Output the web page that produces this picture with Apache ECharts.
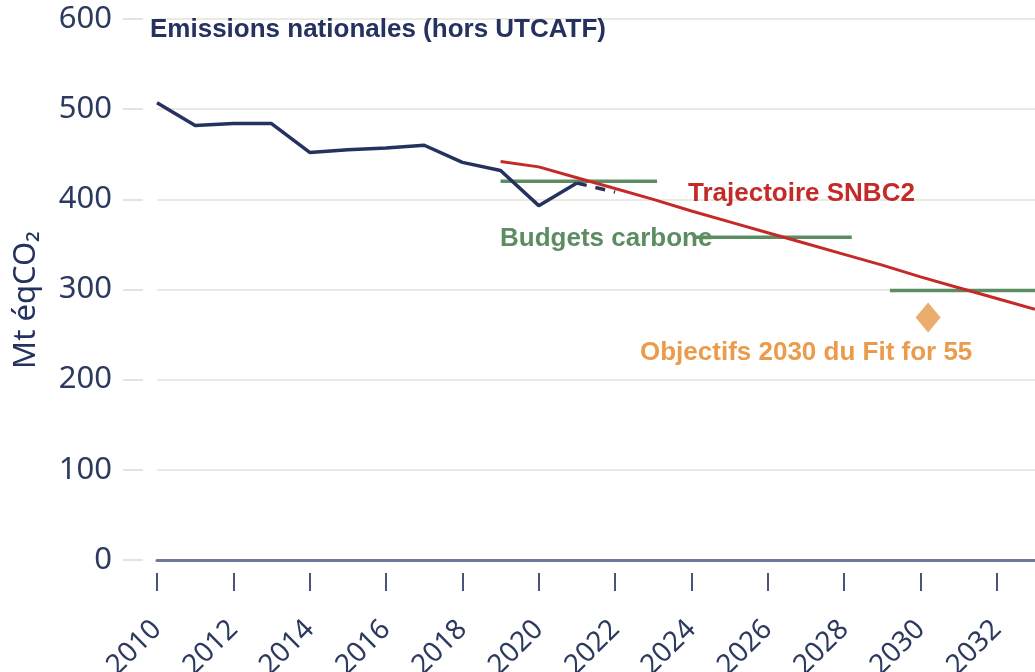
<!DOCTYPE html>
<html>
<head>
<meta charset="utf-8">
<script src="https://cdn.jsdelivr.net/npm/echarts@6/dist/echarts.min.js"></script>
<style>
  html, body { margin: 0; padding: 0; background: #fff; }
  #chart { width: 1035px; height: 672px; }
</style>
</head>
<body>
<div id="chart"></div>
<script>
// emissions nationales (hors UTCATF), Mt éqCO2
let years = [2010, 2011, 2012, 2013, 2014, 2015, 2016, 2017, 2018, 2019, 2020, 2021];
let emissions = [507, 482, 484, 484, 452, 455, 457, 460, 441, 432, 393, 418];
// estimation provisoire (pointillés)
let provYears = [2021, 2022];
let provValues = [418, 408];

// trajectoire SNBC2
let snbcYears = [2019, 2020, 2021, 2022, 2023, 2024, 2025, 2026, 2027, 2028, 2029, 2030, 2031, 2032, 2033];
let snbcValues = [442, 436, 424, 412, 400, 387, 375, 363, 351, 339, 327, 314, 302, 290, 278];

// budgets carbone (segments horizontaux)
let budgetStarts = [2019, 2024.1, 2029.2];
let budgetEnds = [2023.1, 2028.2, 2033];
let budgetValues = [420, 358, 299];

// objectif Fit for 55
let fitYear = 2030.2;
let fitValue = 269;

let yTicks = [0, 100, 200, 300, 400, 500, 600];

let navy = '#25315f';
let red = '#c42a28';
let green = '#5b8c62';
let orange = '#ea9b4b';
let labelFont = '"Liberation Sans", Arial, sans-serif';

let myChart = echarts.init(document.getElementById('chart'));

let budgetSeries = budgetValues.map(function (v, i) {
  return {
    name: 'Budgets carbone',
    type: 'line',
    showSymbol: false,
    symbol: 'none',
    lineStyle: { color: green, width: 3.5 },
    data: [[budgetStarts[i], v], [budgetEnds[i], v]],
    z: 3
  };
});

function annot(text, x, y, color) {
  return {
    type: 'text', x: x, y: y, z: 100,
    style: {
      text: text, fill: color,
      fontSize: 26, fontWeight: 'bold', fontFamily: labelFont,
      verticalAlign: 'middle'
    }
  };
}

myChart.setOption({
  animation: false,
  grid: { left: 157, right: 0, top: 19, bottom: 112, containLabel: false, outerBoundsMode: 'none' },
  xAxis: [{
    type: 'value',
    min: 2010,
    max: 2033,
    interval: 2,
    axisLine: { show: true, lineStyle: { color: '#6f7897', width: 3 } },
    axisTick: { show: false },
    axisLabel: { show: false },
    splitLine: { show: false }
  }, {
    type: 'value',
    position: 'bottom',
    offset: 13,
    min: 2010,
    max: 2033,
    interval: 2,
    axisLine: { show: false },
    axisTick: { show: true, length: 18, lineStyle: { color: '#4a5478', width: 2 } },
    axisLabel: {
      rotate: 45,
      margin: 52,
      fontSize: 28,
      fontFamily: 'Noto Sans',
      color: '#2d3a5f',
      showMaxLabel: false,
      formatter: function (v) { return String(v); }
    },
    splitLine: { show: false }
  }],
  yAxis: {
    type: 'value',
    min: 0,
    max: 600,
    interval: 100,
    offset: 14,
    axisLine: { show: false },
    axisTick: { show: true, length: 20, lineStyle: { color: '#e6e3dc', width: 2 } },
    axisLabel: {
      margin: 31,
      fontSize: 31,
      fontFamily: 'Noto Sans',
      color: '#2d3a5f',
      formatter: function (v) { return yTicks.indexOf(v) >= 0 ? String(v) : ''; }
    },
    splitLine: { show: true, lineStyle: { color: '#ebe9e3', width: 2 } }
  },
  graphic: [
    annot('Emissions nationales (hors UTCATF)', 150, 30, navy),
    annot('Trajectoire SNBC2', 688, 194, red),
    annot('Budgets carbone', 500, 239, green),
    annot('Objectifs 2030 du Fit for 55', 640, 353, orange),
    {
      type: 'text', x: 26, y: 300, rotation: Math.PI / 2, z: 100,
      style: {
        text: 'Mt éqCO₂', fill: navy,
        fontSize: 31, fontFamily: 'Noto Sans',
        align: 'center', verticalAlign: 'middle'
      }
    }
  ],
  series: [
    {
      name: 'Emissions nationales',
      type: 'line',
      showSymbol: false,
      symbol: 'none',
      lineStyle: { color: navy, width: 3.5 },
      data: years.map(function (y, i) { return [y, emissions[i]]; }),
      z: 4
    },
    {
      name: 'Emissions provisoires',
      type: 'line',
      showSymbol: false,
      symbol: 'none',
      lineStyle: { color: navy, width: 3.5, type: [10, 9] },
      data: provYears.map(function (y, i) { return [y, provValues[i]]; }),
      z: 4
    }
  ].concat(budgetSeries).concat([
    {
      name: 'Trajectoire SNBC2',
      type: 'line',
      showSymbol: false,
      symbol: 'none',
      lineStyle: { color: red, width: 3 },
      data: snbcYears.map(function (y, i) { return [y, snbcValues[i]]; }),
      z: 5
    },
    {
      name: 'Objectifs 2030 du Fit for 55',
      type: 'scatter',
      symbol: 'diamond',
      symbolSize: [25, 30],
      itemStyle: { color: '#e6994a' },
      data: [[fitYear, fitValue]],
      z: 6
    }
  ])
});
</script>
</body>
</html>
